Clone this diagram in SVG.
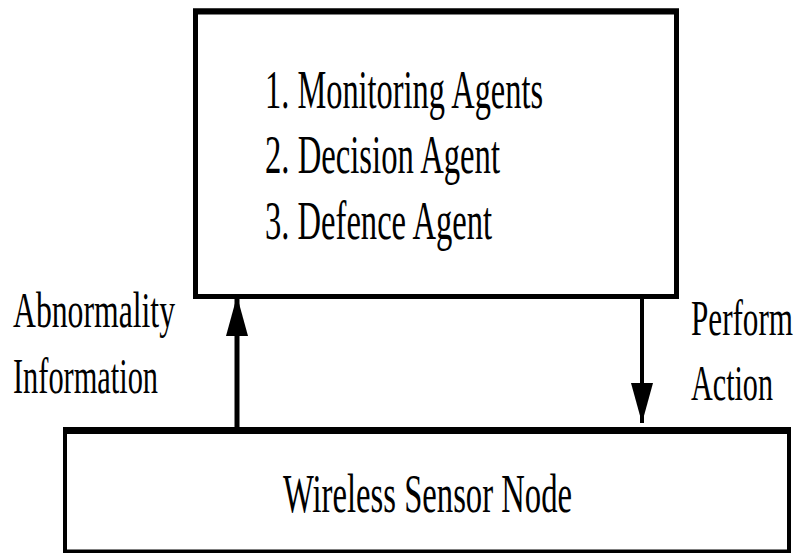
<svg xmlns="http://www.w3.org/2000/svg" width="798" height="553" viewBox="0 0 798 553">
  <style>
    .box { fill: #fff; stroke: #000; }
    .lbl { font-family: "Liberation Serif", "Times New Roman", serif; fill: #000; }
    .big { font-size: 32.5px; }
    .side { font-size: 32px; }
    .conn { stroke: #000; fill: none; }
  </style>
  <defs>
    <marker id="arrow" viewBox="0 0 40 22" refX="40" refY="11" markerWidth="40" markerHeight="22" markerUnits="userSpaceOnUse" orient="auto">
      <path d="M0,0 L40,11 L0,22 Z" fill="#000"/>
    </marker>
  </defs>
  <rect width="798" height="553" fill="#fff"/>

  <g id="agents">
    <rect class="box" x="195.5" y="11" width="481" height="285.5" stroke-width="5"/>
    <line x1="193" y1="11.5" x2="679" y2="11.5" stroke="#000" stroke-width="6"/>
    <text class="lbl big" transform="translate(265,108) scale(1,1.66)" textLength="278" lengthAdjust="spacingAndGlyphs">1. Monitoring Agents</text>
    <text class="lbl big" transform="translate(265,173) scale(1,1.66)" textLength="235" lengthAdjust="spacingAndGlyphs">2. Decision Agent</text>
    <text class="lbl big" transform="translate(265,239) scale(1,1.66)" textLength="227" lengthAdjust="spacingAndGlyphs">3. Defence Agent</text>
  </g>

  <g id="sensor-node">
    <rect class="box" x="65" y="430.5" width="724" height="121" stroke-width="4"/>
    <line x1="63" y1="430.5" x2="791" y2="430.5" stroke="#000" stroke-width="7"/>
    <text class="lbl big" transform="translate(283,512) scale(1,1.66)" textLength="289" lengthAdjust="spacingAndGlyphs">Wireless Sensor Node</text>
  </g>

  <g id="connectors">
    <line class="conn" x1="237" y1="427" x2="237" y2="296" stroke-width="5" marker-end="url(#arrow)"/>
    <line class="conn" x1="642" y1="299" x2="642" y2="423" stroke-width="4" marker-end="url(#arrow)"/>
    <g id="label-abnormality">
      <text class="lbl side" transform="translate(13,327) scale(1,1.56)" textLength="162" lengthAdjust="spacingAndGlyphs">Abnormality</text>
      <text class="lbl side" transform="translate(13,393) scale(1,1.56)" textLength="145" lengthAdjust="spacingAndGlyphs">Information</text>
    </g>
    <g id="label-perform">
      <text class="lbl side" transform="translate(691,335) scale(1,1.56)" textLength="102" lengthAdjust="spacingAndGlyphs">Perform</text>
      <text class="lbl side" transform="translate(691,400) scale(1,1.56)" textLength="82" lengthAdjust="spacingAndGlyphs">Action</text>
    </g>
  </g>
</svg>
